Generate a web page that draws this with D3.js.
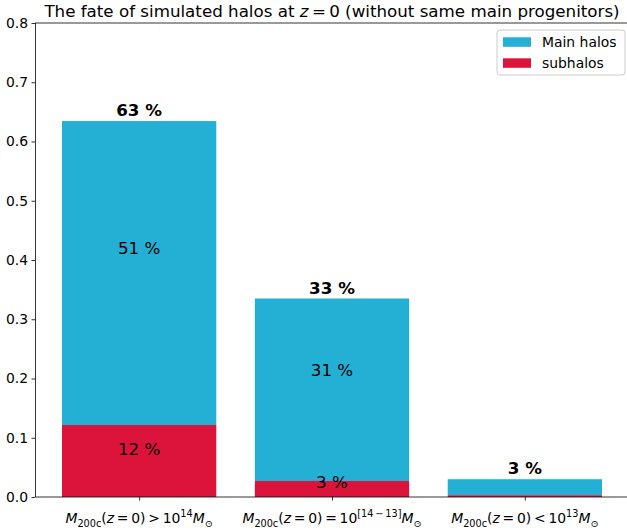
<!DOCTYPE html>
<html>
<head>
<meta charset="utf-8">
<script src="https://cdn.jsdelivr.net/npm/d3@7"></script>
<style>
  body { margin: 0; background: #fff; }
  text { font-family: "DejaVu Sans", sans-serif; fill: #000; }
</style>
</head>
<body>
<script>
// data
var categories = [
    "M_{200c}(z = 0) > 10^{14}M_{⊙}",
    "M_{200c}(z = 0) = 10^{[14 − 13]}M_{⊙}",
    "M_{200c}(z = 0) < 10^{13}M_{⊙}"
];
var mainHalos = [0.513, 0.308, 0.027];
var subHalos = [0.1215, 0.027, 0.003];
var totalLabels = ["63 %", "33 %", "3 %"];
var mainLabels = ["51 %", "31 %", ""];
var subLabels = ["12 %", "3 %", ""];
var mainLabelAt = [0.42, 0.214, null];
var subLabelAt = [0.081, 0.025, null];
var yTicks = [0, 0.1, 0.2, 0.3, 0.4, 0.5, 0.6, 0.7, 0.8];
var seriesNames = ["Main halos", "subhalos"];

var mainColor = "#24afd4";
var subColor = "#dc143c";

// set dimensions
var width = 627;
var height = 531;

var svg = d3.select("body")
    .append("svg")
    .attr("width", width)
    .attr("height", height);

// scales (matplotlib style: bars of width 0.8, 5% margins)
var xScale = d3.scaleLinear()
    .domain([-0.54, 2.54])
    .range([35, 629]);

var yScale = d3.scaleLinear()
    .domain([0, 0.8])
    .range([497, 23]);

var barW = xScale(0.8) - xScale(0);

var data = categories.map(function(c, i) {
    return {
        i: i, cat: c, main: mainHalos[i], sub: subHalos[i],
        total: mainHalos[i] + subHalos[i]
    };
});

// main halos stacked on top of subhalos
svg.selectAll("rect.main")
    .data(data)
    .enter()
    .append("rect")
    .attr("class", "main")
    .attr("x", d => xScale(d.i - 0.4))
    .attr("width", barW)
    .attr("y", d => yScale(d.total))
    .attr("height", d => yScale(d.sub) - yScale(d.total))
    .attr("fill", mainColor);

svg.selectAll("rect.sub")
    .data(data)
    .enter()
    .append("rect")
    .attr("class", "sub")
    .attr("x", d => xScale(d.i - 0.4))
    .attr("width", barW)
    .attr("y", d => yScale(d.sub))
    .attr("height", d => yScale(0) - yScale(d.sub))
    .attr("fill", subColor);

// labels
svg.selectAll("text.total")
    .data(data)
    .enter()
    .append("text")
    .attr("x", d => xScale(d.i))
    .attr("y", d => yScale(d.total) - 5)
    .attr("text-anchor", "middle")
    .attr("font-size", "16.7px")
    .attr("font-weight", "bold")
    .text(d => totalLabels[d.i]);

svg.selectAll("text.mainlab")
    .data(data.filter(d => mainLabels[d.i]))
    .enter()
    .append("text")
    .attr("x", d => xScale(d.i))
    .attr("y", d => yScale(mainLabelAt[d.i]) + 6)
    .attr("text-anchor", "middle")
    .attr("font-size", "16.7px")
    .text(d => mainLabels[d.i]);

svg.selectAll("text.sublab")
    .data(data.filter(d => subLabels[d.i]))
    .enter()
    .append("text")
    .attr("x", d => xScale(d.i))
    .attr("y", d => yScale(subLabelAt[d.i]) + 6)
    .attr("text-anchor", "middle")
    .attr("font-size", "16.7px")
    .text(d => subLabels[d.i]);

// axes
var yAxis = d3.axisLeft(yScale)
    .tickValues(yTicks)
    .tickFormat(d3.format(".1f"))
    .tickSize(3.5)
    .tickPadding(3.5);

var gy = svg.append("g")
    .attr("transform", "translate(35,0)")
    .call(yAxis);
gy.select(".domain").remove();
gy.selectAll("line").attr("stroke", "#000").attr("stroke-width", 0.8);
gy.selectAll("text").attr("font-size", "13.9px").attr("font-family", "DejaVu Sans");

var xAxis = d3.axisBottom(xScale)
    .tickValues([0, 1, 2])
    .tickFormat("")
    .tickSize(3.5);

var gx = svg.append("g")
    .attr("transform", "translate(0,497)")
    .call(xAxis);
gx.select(".domain").remove();
gx.selectAll("line").attr("stroke", "#000").attr("stroke-width", 0.8);

// mathtext-like tick labels
function mathLabel(sel, str) {
    var base = 13.9, small = 9.7;
    var segs = [];
    var k = 0;
    while (k < str.length) {
        var ch = str[k];
        if (ch === "_" || ch === "^") {
            var j = str.indexOf("}", k);
            segs.push({t: str.slice(k + 2, j), pos: ch === "_" ? "sub" : "sup"});
            k = j + 1;
        } else if (/[A-Za-z]/.test(ch)) {
            segs.push({t: ch, pos: "it"});
            k++;
        } else {
            segs.push({t: ch, pos: "rm"});
            k++;
        }
    }
    var shift = 0;
    segs.forEach(function(s) {
        var target = s.pos === "sub" ? 3.5 : (s.pos === "sup" ? -6 : 0);
        var ts = sel.append("tspan")
            .attr("dy", target - shift)
            .attr("font-size", (s.pos === "sub" || s.pos === "sup") ? small + "px" : base + "px")
            .attr("font-style", s.pos === "it" ? "italic" : "normal")
            .text(s.t.replace(/ /g, "\u2009"));
        shift = target;
    });
}

svg.selectAll("text.xlab")
    .data(data)
    .enter()
    .append("text")
    .attr("class", "xlab")
    .attr("x", d => xScale(d.i))
    .attr("y", 523)
    .attr("text-anchor", "middle")
    .attr("font-size", "13.9px")
    .each(function(d) { mathLabel(d3.select(this), d.cat); });

// spines
svg.append("line")
    .attr("x1", 35.5).attr("x2", 35.5)
    .attr("y1", yScale(0.8)).attr("y2", yScale(0))
    .attr("stroke", "#000").attr("stroke-width", 0.8);
[0, 0.8].forEach(function(v) {
    svg.append("line")
        .attr("x1", 35).attr("x2", 629)
        .attr("y1", yScale(v)).attr("y2", yScale(v))
        .attr("stroke", "#000").attr("stroke-width", 0.8);
});

// title
svg.append("text")
    .attr("x", (35 + 629) / 2)
    .attr("y", 17)
    .attr("text-anchor", "middle")
    .attr("font-size", "16.7px")
    .call(function(t) {
        t.append("tspan").text("The fate of simulated halos at ");
        t.append("tspan").attr("font-style", "italic").text("z");
        t.append("tspan").text("\u2009=\u20090 (without same main progenitors)");
    });

// legend
var legend = svg.append("g").attr("transform", "translate(497,30)");
legend.append("rect")
    .attr("x", 0).attr("y", 0)
    .attr("width", 128).attr("height", 45)
    .attr("rx", 3)
    .attr("fill", "#fff").attr("fill-opacity", 0.8)
    .attr("stroke", "#ccc").attr("stroke-width", 1);

legend.selectAll("rect.key")
    .data(seriesNames)
    .enter()
    .append("rect")
    .attr("class", "key")
    .attr("x", 6)
    .attr("y", (d, i) => 7.3 + i * 21)
    .attr("width", 28)
    .attr("height", 9.5)
    .attr("fill", (d, i) => i === 0 ? mainColor : subColor);

legend.selectAll("text.key")
    .data(seriesNames)
    .enter()
    .append("text")
    .attr("x", 45)
    .attr("y", (d, i) => 17.3 + i * 21)
    .attr("font-size", "13.9px")
    .text(d => d);
</script>
</body>
</html>
